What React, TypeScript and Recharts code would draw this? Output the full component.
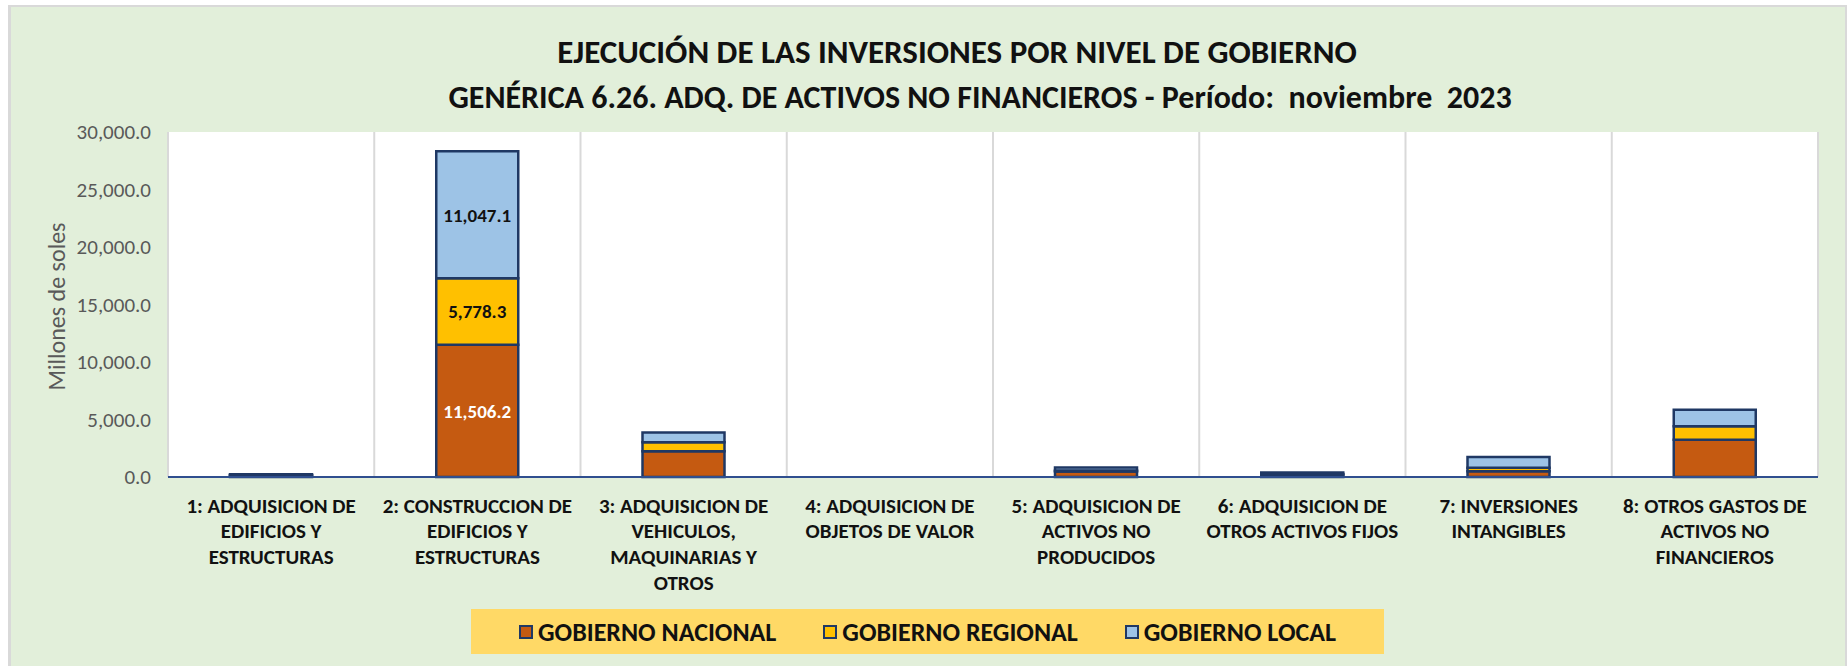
import React from 'react';
import { BarChart, Bar, XAxis, YAxis, CartesianGrid, LabelList } from 'recharts';

const categories = [
  'cat1', 'cat2', 'cat3', 'cat4', 'cat5', 'cat6', 'cat7', 'cat8',
];
const categoryLines = [
  ['1: ADQUISICION DE', 'EDIFICIOS Y', 'ESTRUCTURAS'],
  ['2: CONSTRUCCION DE', 'EDIFICIOS Y', 'ESTRUCTURAS'],
  ['3: ADQUISICION DE', 'VEHICULOS,', 'MAQUINARIAS Y', 'OTROS'],
  ['4: ADQUISICION DE', 'OBJETOS DE VALOR'],
  ['5: ADQUISICION DE', 'ACTIVOS NO', 'PRODUCIDOS'],
  ['6: ADQUISICION DE', 'OTROS ACTIVOS FIJOS'],
  ['7: INVERSIONES', 'INTANGIBLES'],
  ['8: OTROS GASTOS DE', 'ACTIVOS NO', 'FINANCIEROS'],
];
const nacional = [120, 11506.2, 2250, 0, 480, 200, 500, 3230];
const regional = [30, 5778.3, 780, 0, 90, 60, 300, 1190];
const local = [80, 11047.1, 850, 0, 250, 130, 940, 1420];
const yTicks = [0, 5000, 10000, 15000, 20000, 25000, 30000];
const seriesKeys = ['nacional', 'regional', 'local'];
const seriesNames = ['GOBIERNO NACIONAL', 'GOBIERNO REGIONAL', 'GOBIERNO LOCAL'];
const seriesColors = ['#C55A11', '#FFC000', '#9DC3E6'];
const labelColors = ['#FFFFFF', '#111111', '#111111'];
const titleLines = [
  'EJECUCIÓN DE LAS INVERSIONES POR NIVEL DE GOBIERNO',
  'GENÉRICA 6.26. ADQ. DE ACTIVOS NO FINANCIEROS - Período:  noviembre  2023',
];
const yAxisTitle = 'Millones de soles';

const data = categories.map((c, i) => ({
  name: c,
  nacional: nacional[i],
  regional: regional[i],
  local: local[i],
}));

const FONT = "Carlito, Calibri, Lato, 'Noto Sans', sans-serif";
const NAVY = '#1F3864';

const fmt = (v: number) =>
  v.toLocaleString('en-US', { minimumFractionDigits: 1, maximumFractionDigits: 1 });

const XTick = (props: any) => {
  const { x, y, payload } = props;
  const idx = categories.indexOf(payload.value);
  const lines = categoryLines[idx] || [];
  return (
    <text x={x} y={y} textAnchor="middle" fontFamily={FONT} fontWeight={700} fontSize={21} fill="#111">
      {lines.map((l, i) => (
        <tspan key={i} x={x} dy={i === 0 ? 27.5 : 25.7}>
          {l}
        </tspan>
      ))}
    </text>
  );
};

const makeLabel = (color: string) => (props: any) => {
  const { x, y, width, height, value } = props;
  if (value == null || value < 5000) return null;
  return (
    <text
      x={x + width / 2}
      y={y + height / 2}
      dy={7}
      textAnchor="middle"
      fontFamily={FONT}
      fontWeight={700}
      fontSize={19}
      fill={color}
    >
      {fmt(value)}
    </text>
  );
};

export default function App() {
  const W = 1847;
  const H = 666;
  return (
    <div style={{ position: 'absolute', left: 0, top: 0, width: W, height: H, background: '#FFFFFF', overflow: 'hidden' }}>
      <div
        style={{
          position: 'absolute',
          left: 8,
          top: 5,
          width: W - 8,
          height: H,
          background: '#E2EFDA',
          borderLeft: '3px solid #D9D9D9',
          borderTop: '2px solid #D9D9D9',
          borderRight: '2px solid #D9D9D9',
          boxSizing: 'border-box',
        }}
      />
      <div
        style={{
          position: 'absolute',
          left: 0,
          top: 30,
          width: 1914,
          textAlign: 'center',
          fontFamily: FONT,
          fontWeight: 700,
          fontSize: 33,
          color: '#111',
          lineHeight: '45px',
          whiteSpace: 'pre',
        }}
      >
        <div>{titleLines[0]}</div>
        <div style={{ marginLeft: 46, fontSize: 32 }}>{titleLines[1]}</div>
      </div>
      <div style={{ position: 'absolute', left: 0, top: 0 }}>
        <BarChart
          width={W}
          height={H}
          data={data}
          margin={{ top: 132, right: 29, bottom: 89, left: 68 }}
          barSize={82}
        >
          <CartesianGrid
            horizontal={false}
            vertical={true}
            stroke="#D9D9D9"
            strokeWidth={2}
            fill="#FFFFFF"
            fillOpacity={1}
            verticalCoordinatesGenerator={({ offset }: any) =>
              categories
                .map((_, i) => offset.left + (i * offset.width) / categories.length)
                .concat([offset.left + offset.width])
            }
          />
          <XAxis
            dataKey="name"
            type="category"
            height={100}
            tickLine={false}
            axisLine={{ stroke: '#2F4F8F', strokeWidth: 2 }}
            tick={<XTick />}
            interval={0}
          />
          <YAxis
            width={100}
            domain={[0, 30000]}
            ticks={yTicks}
            tickFormatter={fmt}
            axisLine={false}
            tickLine={false}
            tickMargin={11}
            tick={{ fontFamily: FONT, fontSize: 21, fill: '#595959' }}
            label={(p: any) => {
              const vb = p.viewBox;
              const cy = vb.y + vb.height / 2 + 2;
              return (
                <text
                  x={56}
                  y={cy}
                  transform={`rotate(-90 56 ${cy})`}
                  textAnchor="middle"
                  dominantBaseline="central"
                  fontFamily={FONT}
                  fontSize={24}
                  fill="#595959"
                >
                  {yAxisTitle}
                </text>
              );
            }}
          />
          {seriesKeys.map((k, i) => (
            <Bar
              key={k}
              dataKey={k}
              name={seriesNames[i]}
              stackId="a"
              fill={seriesColors[i]}
              stroke={NAVY}
              strokeWidth={2.5}
              isAnimationActive={false}
            >
              <LabelList dataKey={k} content={makeLabel(labelColors[i])} />
            </Bar>
          ))}
        </BarChart>
      </div>
      <div
        style={{
          position: 'absolute',
          left: 471,
          top: 609,
          width: 913,
          height: 45,
          background: '#FFD966',
          display: 'flex',
          alignItems: 'center',
          justifyContent: 'center',
          gap: 47,
          fontFamily: FONT,
          fontWeight: 700,
          fontSize: 26,
          color: '#111',
        }}
      >
        {seriesNames.map((n, i) => (
          <div key={n} style={{ display: 'flex', alignItems: 'center' }}>
            <div
              style={{
                width: 14,
                height: 14,
                background: seriesColors[i],
                border: `2px solid ${NAVY}`,
                boxSizing: 'border-box',
                marginRight: 5,
              }}
            />
            <span>{n}</span>
          </div>
        ))}
      </div>
    </div>
  );
}
